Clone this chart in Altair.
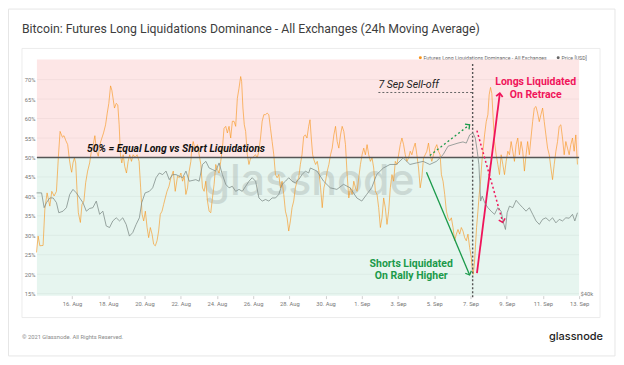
import altair as alt
import pandas as pd

START = "2021-08-14T00:00:00"

# Futures long liquidations dominance (%), (hours since START, value)
dominance = [
    (1.0, 25.6), (3.1, 29.8), (5.4, 27.3), (9.7, 27.4), (12.0, 36.7), (15.0, 40.9), (18.6, 37.5),
    (21.2, 41.3), (24.3, 40.1), (27.4, 41.3), (30.0, 50.3), (32.2, 56.7), (35.3, 55.2), (37.4, 55.6),
    (39.7, 54.4), (42.3, 53.3), (44.6, 49.4), (46.3, 47.3), (47.6, 46.2), (49.3, 48.6), (51.2, 49.9),
    (52.9, 48.6), (54.6, 41.8), (56.4, 35.8), (59.1, 33.3), (61.2, 37.9), (63.8, 38.8), (66.1, 43.5),
    (68.7, 46.5), (71.4, 48.6), (74.0, 52.0), (75.7, 52.8), (78.3, 55.6), (80.6, 51.6), (82.8, 50.3),
    (85.5, 53.7), (87.6, 55.0), (89.8, 56.3), (92.5, 58.4), (94.7, 61.4), (96.8, 63.9), (99.1, 68.4),
    (100.8, 67.3), (104.3, 62.7), (106.6, 63.9), (108.7, 63.5), (110.5, 58.4), (112.2, 50.7),
    (114.0, 48.6), (115.8, 50.7), (117.9, 47.7), (120.2, 46.0), (122.4, 49.0), (124.5, 50.7),
    (126.8, 49.0), (129.0, 50.7), (131.6, 50.0), (134.3, 50.7), (136.9, 49.0), (139.0, 42.2),
    (140.9, 35.4), (143.0, 33.7), (145.2, 36.2), (147.5, 32.0), (149.6, 29.4), (151.8, 32.0),
    (154.1, 30.3), (156.2, 27.7), (158.4, 27.3), (160.7, 28.6), (162.8, 31.1), (165.0, 35.4),
    (167.3, 36.2), (169.4, 37.9), (171.6, 39.6), (173.9, 41.3), (176.5, 42.6), (179.1, 44.8),
    (182.2, 46.5), (184.8, 41.3), (187.9, 45.2), (190.1, 44.8), (192.3, 46.0), (194.5, 43.9),
    (196.7, 45.2), (198.9, 40.5), (201.1, 42.2), (203.3, 46.5), (205.5, 49.0), (206.8, 52.4),
    (208.6, 54.1), (211.2, 52.0), (214.3, 53.3), (216.5, 50.7), (218.7, 48.2), (220.9, 42.2),
    (223.1, 41.3), (225.3, 43.9), (227.5, 38.8), (229.7, 36.2), (231.9, 35.8), (234.1, 39.6),
    (236.3, 43.1), (238.5, 48.2), (240.7, 46.9), (242.9, 46.0), (245.1, 49.0), (247.3, 52.4),
    (249.5, 57.5), (251.7, 58.0), (253.9, 56.3), (256.1, 58.0), (258.3, 55.0), (260.5, 59.3),
    (262.7, 59.3), (264.9, 58.0), (267.1, 65.2), (269.3, 67.8), (271.5, 70.8), (272.8, 69.5),
    (274.5, 62.7), (276.3, 58.4), (278.1, 56.7), (280.3, 50.7), (282.5, 48.2), (284.7, 49.9),
    (286.9, 49.9), (289.0, 50.3), (291.2, 50.7), (293.4, 49.9), (295.6, 51.6), (297.8, 55.0),
    (300.0, 59.3), (302.2, 61.0), (304.4, 61.0), (306.6, 61.4), (308.8, 61.0), (311.0, 57.5),
    (313.2, 54.1), (315.4, 50.7), (317.6, 45.6), (319.8, 44.8), (322.0, 45.6), (324.2, 42.2),
    (326.4, 43.9), (328.6, 40.5), (330.8, 36.2), (333.0, 34.5), (335.2, 31.1), (337.4, 33.7),
    (339.6, 37.1), (341.8, 38.8), (344.0, 42.2), (346.2, 43.9), (348.4, 44.8), (350.6, 48.2),
    (352.8, 50.7), (355.0, 55.4), (357.2, 55.8), (359.4, 55.0), (361.6, 58.0), (363.4, 59.7),
    (365.1, 55.0), (366.9, 50.7), (368.6, 49.4), (370.8, 48.2), (373.0, 49.0), (375.2, 46.5),
    (377.4, 42.2), (379.6, 37.1), (381.8, 42.2), (384.0, 43.9), (386.2, 46.5), (388.4, 48.2),
    (390.6, 50.7), (392.8, 52.4), (395.0, 55.8), (397.2, 58.0), (399.4, 54.1), (401.6, 52.4),
    (403.8, 55.8), (406.0, 58.0), (408.2, 56.7), (410.4, 53.3), (412.6, 45.6), (414.8, 39.6),
    (417.0, 42.2), (419.2, 40.5), (421.4, 43.9), (423.6, 42.2), (425.8, 41.3), (428.0, 44.8),
    (430.2, 48.2), (432.4, 50.7), (434.6, 52.4), (436.8, 50.7), (439.0, 53.3), (441.2, 50.7),
    (443.4, 49.0), (445.6, 49.9), (447.8, 47.3), (450.0, 41.3), (452.2, 40.5), (454.4, 37.1),
    (456.6, 32.0), (458.8, 34.5), (461.0, 39.6), (463.2, 37.1), (465.4, 32.8), (467.6, 36.2),
    (469.8, 42.2), (472.0, 45.6), (474.2, 43.9), (476.4, 49.0), (478.6, 48.2), (480.8, 50.7),
    (483.0, 53.3), (485.2, 55.0), (487.4, 53.3), (489.6, 50.7), (491.8, 49.0), (494.0, 49.9),
    (496.2, 51.6), (498.4, 50.7), (500.6, 52.4), (502.8, 53.7), (505.0, 50.7), (507.2, 47.3),
    (509.4, 42.2), (511.6, 44.8), (513.8, 49.9), (516.0, 50.7), (518.2, 51.6), (520.4, 53.7),
    (522.6, 50.7), (524.8, 49.0), (527.0, 50.7), (529.2, 52.4), (531.4, 53.3), (533.6, 51.6),
    (535.8, 50.7), (537.5, 45.6), (539.7, 43.9), (541.9, 40.5), (544.1, 36.2), (546.3, 34.5),
    (548.5, 33.7), (550.7, 34.5), (552.9, 32.0), (555.1, 28.6), (557.3, 30.3), (559.5, 31.5),
    (561.7, 30.3), (563.9, 32.0), (566.1, 31.1), (568.3, 29.4), (570.5, 28.6), (572.7, 30.3),
    (574.9, 26.9), (577.1, 24.3), (578.4, 21.3), (579.7, 20.0), (581.5, 23.4), (582.8, 27.7),
    (584.1, 32.0), (585.9, 36.2), (587.6, 40.5), (589.4, 43.9), (591.2, 49.0), (592.9, 52.4),
    (594.7, 55.8), (596.9, 59.2), (599.1, 61.0), (600.8, 66.1), (602.6, 68.0), (604.3, 66.5),
    (606.1, 60.1), (607.9, 54.1), (610.1, 50.7), (612.3, 48.2), (614.5, 45.6), (616.7, 50.7),
    (618.9, 48.2), (621.1, 45.6), (623.3, 49.0), (625.5, 51.6), (627.7, 50.7), (629.9, 54.1),
    (632.1, 51.6), (634.3, 49.0), (636.5, 53.3), (638.7, 55.0), (640.9, 50.7), (643.1, 54.1),
    (645.3, 51.6), (647.5, 46.5), (649.7, 50.7), (651.8, 54.1), (654.0, 50.7), (656.2, 55.0),
    (658.4, 59.2), (660.6, 62.7), (662.8, 63.1), (665.0, 61.4), (667.2, 59.2), (669.4, 61.0),
    (671.6, 62.7), (673.8, 59.2), (676.0, 55.8), (678.2, 52.4), (680.4, 50.7), (682.6, 47.3),
    (684.8, 44.3), (687.0, 48.2), (689.2, 51.6), (691.4, 54.1), (693.6, 58.0), (695.8, 58.4),
    (698.0, 55.0), (700.2, 50.7), (702.4, 54.1), (704.6, 52.4), (706.8, 50.7), (709.0, 53.3),
    (711.2, 55.0), (713.4, 51.6), (715.6, 55.8), (717.8, 48.2),
]

# BTC price (USD), (hours since START, value)
price = [
    (1.1, 47770), (7.7, 47770), (11.1, 46630), (14.2, 47020), (18.6, 47380), (23.0, 47380),
    (27.4, 47020), (30.5, 46240), (36.1, 46360), (40.6, 46630), (45.0, 47650), (49.3, 48040),
    (53.8, 47770), (58.2, 47380), (62.5, 47020), (67.0, 46360), (71.4, 46570), (75.7, 46630),
    (80.2, 47140), (84.6, 46120), (88.9, 46360), (93.4, 45220), (97.8, 45100), (102.1, 45610),
    (106.6, 45850), (111.0, 45610), (115.3, 45850), (119.8, 45340), (124.1, 44440), (128.5, 44710),
    (133.0, 45340), (137.3, 45850), (140.4, 47020), (144.9, 47770), (150.5, 47890), (154.9, 48160),
    (159.4, 48940), (163.7, 49300), (168.1, 49180), (172.6, 49450), (176.9, 48790), (181.3, 49180),
    (185.8, 49180), (194.5, 48940), (199.0, 49450), (203.3, 48670), (212.1, 48790), (216.5, 48670),
    (220.9, 49960), (225.4, 50200), (229.7, 49690), (234.1, 49570), (238.5, 49450), (242.9, 50080),
    (247.3, 49180), (251.7, 48430), (256.1, 48160), (260.4, 48280), (264.9, 47890), (269.3, 48040),
    (273.6, 47890), (278.1, 48280), (282.5, 48670), (286.8, 48940), (291.3, 48670), (295.7, 47380),
    (300.1, 47140), (304.5, 47260), (308.9, 47140), (313.2, 47380), (317.7, 47380), (322.0, 47650),
    (326.4, 48430), (330.9, 48670), (335.2, 48940), (339.6, 48670), (344.1, 48550), (348.4, 48790),
    (352.8, 49180), (357.3, 49450), (361.6, 49300), (363.9, 49690), (372.6, 49450), (381.4, 48670),
    (390.3, 48160), (399.0, 48040), (407.8, 48430), (416.6, 48160), (425.4, 47380), (432.0, 47140),
    (438.5, 47650), (445.1, 48160), (451.7, 49180), (460.6, 49690), (469.4, 49960), (478.1, 49960),
    (486.9, 50470), (495.8, 49960), (504.5, 50080), (513.3, 50200), (522.1, 49960), (530.9, 50200),
    (539.7, 50710), (546.3, 51370), (552.9, 51490), (559.5, 51610), (566.1, 51700), (570.5, 51610),
    (575.0, 52240), (579.3, 52390), (582.4, 52000), (585.0, 50980), (587.2, 49960), (589.5, 47140),
    (591.6, 47530), (594.8, 47020), (599.1, 46630), (603.4, 46360), (607.9, 46120), (612.3, 46630),
    (616.6, 46360), (619.8, 45460), (622.4, 44950), (624.6, 46240), (627.7, 46750), (632.1, 46630),
    (636.5, 47200), (640.9, 46900), (645.3, 46630), (649.7, 46360), (654.1, 46630), (658.5, 46120),
    (662.9, 45610), (667.3, 45340), (671.6, 45730), (676.0, 45850), (680.5, 45610), (684.8, 45850),
    (689.2, 45460), (693.7, 45730), (698.0, 45610), (702.4, 45850), (706.9, 45820), (711.2, 46120),
    (714.3, 45610), (717.8, 46240),
]

tick_days = ["2021-08-16", "2021-08-18", "2021-08-20", "2021-08-22", "2021-08-24", "2021-08-26",
             "2021-08-28", "2021-08-30", "2021-09-01", "2021-09-03", "2021-09-05", "2021-09-07",
             "2021-09-09", "2021-09-11", "2021-09-13"]
pct_ticks = [15, 20, 25, 30, 35, 40, 45, 50, 55, 60, 65, 70]
x_range_hours = [1.5, 720.0]
pct_range = [14.5, 75.2]
price_range = [39850, 58060]

# annotation geometry in data units (hours, percent)
sell_off_hour = 578.9
arrows = {
    "long_solid": (584.6, 20.3, 614.9, 66.5),
    "long_dotted": (584.6, 56.9, 618.9, 33.3),
    "short_solid": (517.7, 46.2, 574.9, 19.8),
    "short_dotted": (522.2, 50.5, 574.9, 58.4),
}

W, H = 544, 237
ORANGE = "#f7931a"
GRAY = "#7d8a86"
PINK = "#f0145a"
GREEN = "#1a9a4a"
FONT = "Roboto"

base = pd.Timestamp(START)


def ts(h):
    return base + pd.Timedelta(hours=h)


def dt(t):
    return alt.DateTime(year=t.year, month=t.month, date=t.day, hours=t.hour, minutes=t.minute)


dom_df = pd.DataFrame({"t": [ts(h) for h, _ in dominance], "v": [v for _, v in dominance]})
price_df = pd.DataFrame({"t": [ts(h) for h, _ in price], "p": [v for _, v in price]})

x_scale = alt.Scale(domain=[dt(ts(x_range_hours[0])), dt(ts(x_range_hours[1]))])
x_axis = alt.Axis(
    values=[dt(pd.Timestamp(d)) for d in tick_days], format="%-d. %b", formatType="time",
    labelFontSize=5.8, labelColor="#777", labelFont=FONT, labelPadding=2, tickSize=3,
    tickColor="#d0d0d0", domain=False, grid=False, title=None, labelFlush=False, zindex=2,
)
y_scale = alt.Scale(domain=pct_range, nice=False, zero=False)
y_axis = alt.Axis(
    values=pct_ticks, labelExpr="datum.value + '%'", labelFontSize=5.8, labelColor="#777",
    labelFont=FONT, labelPadding=2, ticks=False, domain=False, grid=False, title=None, zindex=2,
)


def X(field="t"):
    return alt.X(f"{field}:T", scale=x_scale, axis=x_axis)


def Y(field):
    return alt.Y(f"{field}:Q", scale=y_scale, axis=y_axis)


# --- decorative frame (pixel positions relative to plot origin) ---
one = pd.DataFrame({"a": [0]})
outer_card = alt.Chart(one).mark_rect(fill="white", fillOpacity=0, stroke="#e6e6e6",
                                      strokeWidth=1).encode(
    x=alt.value(-28.5), x2=alt.value(580), y=alt.value(-50.5), y2=alt.value(297.5))
inner_box = alt.Chart(one).mark_rect(fill="white", fillOpacity=0, stroke="#ececec",
                                     strokeWidth=1).encode(
    x=alt.value(-15), x2=alt.value(565), y=alt.value(-11), y2=alt.value(259))
title = alt.Chart(one).mark_text(
    text="Bitcoin: Futures Long Liquidations Dominance - All Exchanges (24h Moving Average)",
    align="left", baseline="middle", fontSize=12.3, font=FONT, color="#3d3d3d").encode(
    x=alt.value(-15), y=alt.value(-30))
footer = alt.Chart(one).mark_text(
    text="© 2021 Glassnode. All Rights Reserved.", align="left", baseline="middle",
    fontSize=5.8, font=FONT, color="#8a8a8a").encode(x=alt.value(-15), y=alt.value(279))
logo = alt.Chart(one).mark_text(
    text="glassnode", align="right", baseline="middle", fontSize=11, font="Inter",
    fontWeight=500, color="#1e1e1e").encode(x=alt.value(568), y=alt.value(279))

legend_df = pd.DataFrame({
    "label": ["Futures Long Liquidations Dominance - All Exchanges", "Price [USD]"],
    "px": [384.7, 523.0], "col": [ORANGE, "#666666"]})
legend_dots = alt.Chart(legend_df).mark_point(filled=True, size=9, opacity=1).encode(
    x=alt.X("px:Q", scale=None), y=alt.value(-1.7), color=alt.Color("col:N", scale=None))
legend_text = alt.Chart(legend_df).transform_calculate(tx="datum.px + 3.2").mark_text(
    align="left", baseline="middle", fontSize=5.2, font=FONT, color="#666").encode(
    x=alt.X("tx:Q", scale=None), y=alt.value(-1.7), text="label:N")

# --- background zones and grid ---
bands_df = pd.DataFrame({"lo": [50, pct_range[0]], "hi": [pct_range[1], 50],
                         "col": ["#fde6e6", "#e6f5ef"]})
bands = alt.Chart(bands_df).mark_rect().encode(
    x=alt.value(0), x2=alt.value(W), y=Y("lo"), y2="hi", color=alt.Color("col:N", scale=None))
grid = alt.Chart(pd.DataFrame({"g": pct_ticks})).mark_rule(color="#000", opacity=0.045,
                                                           strokeWidth=1).encode(
    x=alt.value(0), x2=alt.value(W), y=Y("g"))
watermark = alt.Chart(one).mark_text(
    text="glassnode", align="center", baseline="middle", fontSize=43, font="Inter",
    fontWeight=500, color="#8f9b97", opacity=0.3).encode(x=alt.value(273), y=alt.value(123))

# --- data lines ---
dom_line = alt.Chart(dom_df).mark_line(color=ORANGE, strokeWidth=1, opacity=0.62).encode(
    x=X(), y=Y("v"))

# --- reference lines and annotations ---
half_line = alt.Chart(pd.DataFrame({"y": [50]})).mark_rule(color="#555", strokeWidth=1.3).encode(
    x=alt.value(0), x2=alt.value(W), y=Y("y"))

vline = alt.Chart(pd.DataFrame({"t": [ts(sell_off_hour)], "y1": [74.0], "y2": [pct_range[0] - 0.4]})
                  ).mark_rule(color="#555", strokeWidth=1.4, strokeDash=[2, 2]).encode(
    x=X(), y=Y("y1"), y2="y2")
sell_line = alt.Chart(pd.DataFrame({"t": [ts(454.0)], "t2": [ts(sell_off_hour)], "y": [66.7]})
                      ).mark_rule(color="#666", strokeWidth=1, strokeDash=[2, 2]).encode(
    x=X(), x2="t2:T", y=Y("y"))


def text_layer(label, hour, pct, **kw):
    df = pd.DataFrame({"t": [ts(hour)], "y": [pct]})
    return alt.Chart(df).mark_text(text=label, font=FONT, **kw).encode(x=X(), y=Y("y"))


half_text = text_layer("50% = Equal Long vs Short Liquidations", 67.8, 52.1, align="left",
                       baseline="middle", fontSize=10.4, fontWeight="bold", fontStyle="italic",
                       color="#111")
sell_text = text_layer("7 Sep Sell-off", 454.0, 68.5, align="left", baseline="middle",
                       fontSize=10.6, fontStyle="italic", color="#222")
long_text = text_layer("Longs Liquidated\nOn Retrace", 662.4, 69.3, align="center",
                       baseline="middle", fontSize=10.5, fontWeight="bold", color=PINK,
                       lineBreak="\n", lineHeight=13)
short_text = text_layer("Shorts Liquidated\nOn Rally Higher", 497.5, 22.6, align="center",
                        baseline="middle", fontSize=10.5, fontWeight="bold", color=GREEN,
                        lineBreak="\n", lineHeight=12)


def arrow(key, color, width, dash, angle):
    h1, p1, h2, p2 = arrows[key]
    df = pd.DataFrame({"t": [ts(h1)], "y": [p1], "t2": [ts(h2)], "y2": [p2]})
    rule_kw = dict(color=color, strokeWidth=width)
    if dash:
        rule_kw["strokeDash"] = dash
    shaft = alt.Chart(df).mark_rule(**rule_kw).encode(x=X(), y=Y("y"), x2="t2:T", y2="y2")
    head = alt.Chart(df).mark_point(
        shape="M -0.7 0.7 L 0 0 L 0.7 0.7", filled=False, stroke=color, strokeWidth=width,
        size=90, angle=angle, opacity=1).encode(x=X("t2"), y=Y("y2"))
    return shaft + head


arrow_layers = (
    arrow("long_solid", PINK, 1.8, None, 7.3)
    + arrow("long_dotted", PINK, 1.5, [2, 2.5], 164.2)
    + arrow("short_solid", GREEN, 1.3, None, 157.2)
    + arrow("short_dotted", GREEN, 1.3, [2, 2.5], 52.2)
)

pct_layer = alt.layer(
    outer_card, inner_box, title, footer, logo, legend_dots, legend_text,
    bands, grid, watermark, dom_line, half_line, vline, sell_line,
    half_text, sell_text, long_text, short_text, arrow_layers,
)

price_line = alt.Chart(price_df).mark_line(color=GRAY, strokeWidth=0.9, opacity=0.85).encode(
    x=X(),
    y=alt.Y("p:Q", scale=alt.Scale(domain=price_range, nice=False, zero=False),
            axis=alt.Axis(orient="right", values=[40000], labelExpr="'$40k'", labelFontSize=5.8,
                          labelColor="#777", labelFont=FONT, labelPadding=1, ticks=False,
                          domain=False, grid=False, title=None, zindex=2)),
)

chart = alt.layer(pct_layer, price_line).resolve_scale(y="independent").properties(
    width=W, height=H,
    autosize=alt.AutoSizeParams(type="none"),
    padding={"left": 29, "top": 51, "right": 37, "bottom": 64},
    background="white",
).configure_view(stroke=None)

chart.save("out.html", embed_options={"renderer": "svg", "actions": False})
